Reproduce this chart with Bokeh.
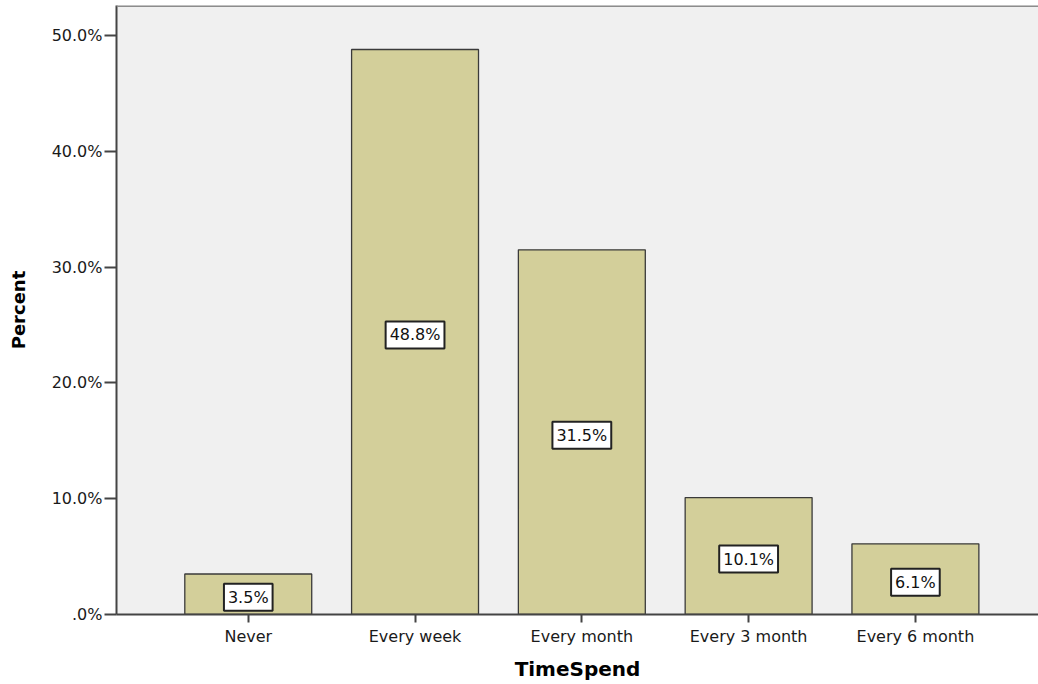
from bokeh.plotting import figure
from bokeh.models import ColumnDataSource, FixedTicker, Span
from bokeh.core.properties import value
from bokeh.embed import file_html
from bokeh.resources import INLINE

categories = ["Never", "Every week", "Every month", "Every 3 month", "Every 6 month"]
percents = [3.5, 48.8, 31.5, 10.1, 6.1]
bar_labels = ["3.5%", "48.8%", "31.5%", "10.1%", "6.1%"]
y_ticks = [0, 10, 20, 30, 40, 50]
y_tick_labels = [".0%", "10.0%", "20.0%", "30.0%", "40.0%", "50.0%"]

xs = list(range(len(categories)))
src = ColumnDataSource(dict(
    x=xs,
    top=percents,
    mid=[v / 2 for v in percents],
    label=bar_labels,
))

p = figure(width=1038, height=684, output_backend="svg", toolbar_location=None,
           x_range=(-0.79, 4.738), y_range=(0, 52.6),
           min_border_left=116, min_border_right=0, min_border_top=5, min_border_bottom=70)
p.background_fill_color = "#f0f0f0"
p.border_fill_color = "white"
p.outline_line_color = None
p.xgrid.visible = False
p.ygrid.visible = False

p.vbar(x="x", top="top", width=0.761, bottom=0, source=src,
       fill_color="#d3cf9a", line_color="#3a3a3a", line_width=1.3)

p.text(x="x", y="mid", text="label", source=src,
       text_align="center", text_baseline="middle", y_offset=3,
       text_font=value("DejaVu Sans"), text_font_size="16px", text_color="#111111",
       background_fill_color="white", border_line_color="#222222", border_line_width=2,
       padding=4)

p.add_layout(Span(location=52.6, dimension="width", line_color="#8c8c8c", line_width=3))

font = "DejaVu Sans"
# y axis
p.yaxis.ticker = FixedTicker(ticks=y_ticks)
p.yaxis.major_label_overrides = {t: l for t, l in zip(y_ticks, y_tick_labels)}
p.yaxis.axis_label = "Percent"
p.yaxis.axis_label_text_font = font
p.yaxis.axis_label_text_font_style = "bold"
p.yaxis.axis_label_text_font_size = "18px"
p.yaxis.axis_label_text_color = "#000000"
p.yaxis.axis_label_standoff = 20
p.yaxis.major_label_text_font = font
p.yaxis.major_label_text_font_size = "16px"
p.yaxis.major_label_text_color = "#1a1a1a"
p.yaxis.major_label_standoff = 2
p.yaxis.major_tick_out = 12
p.yaxis.major_tick_in = 0
p.yaxis.minor_tick_line_color = None
p.yaxis.axis_line_color = "#444444"
p.yaxis.axis_line_width = 2
p.yaxis.major_tick_line_color = "#444444"
p.yaxis.major_tick_line_width = 2

# x axis
p.xaxis.ticker = FixedTicker(ticks=xs)
p.xaxis.major_label_overrides = {i: c for i, c in zip(xs, categories)}
p.xaxis.axis_label = "TimeSpend"
p.xaxis.axis_label_text_font = font
p.xaxis.axis_label_text_font_style = "bold"
p.xaxis.axis_label_text_font_size = "20px"
p.xaxis.axis_label_text_color = "#000000"
p.xaxis.axis_label_standoff = 8
p.xaxis.major_label_text_font = font
p.xaxis.major_label_text_font_size = "16px"
p.xaxis.major_label_text_color = "#1a1a1a"
p.xaxis.major_label_standoff = 4
p.xaxis.major_tick_out = 8
p.xaxis.major_tick_in = 0
p.xaxis.minor_tick_line_color = None
p.xaxis.axis_line_color = "#444444"
p.xaxis.axis_line_width = 2
p.xaxis.major_tick_line_color = "#444444"
p.xaxis.major_tick_line_width = 2

open("out.html", "w").write(file_html(p, INLINE))
